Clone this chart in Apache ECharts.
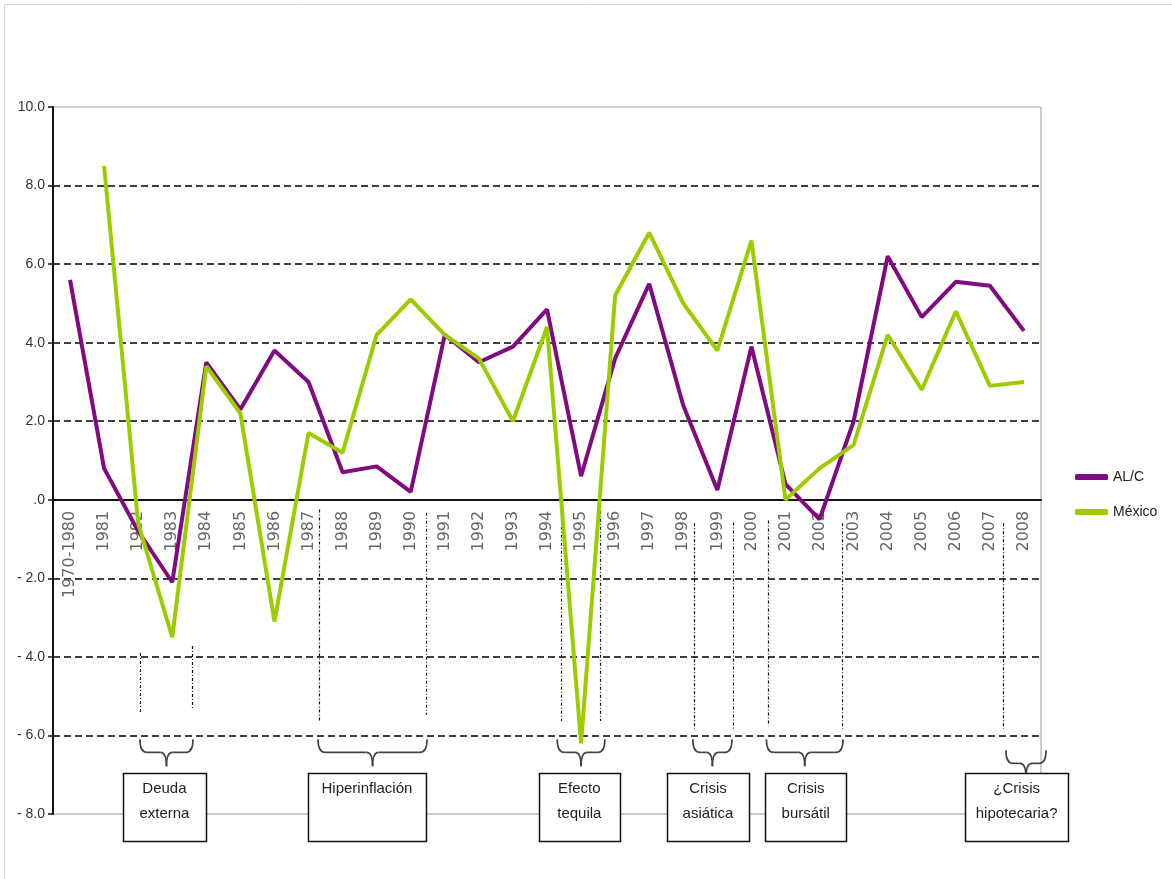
<!DOCTYPE html>
<html>
<head>
<meta charset="utf-8">
<script src="https://cdn.jsdelivr.net/npm/echarts@6/dist/echarts.min.js"></script>
<style>
html, body { margin: 0; padding: 0; background: #fff; }
#chart { width: 1172px; height: 879px; }
</style>
</head>
<body>
<div id="chart"></div>
<script>
// Periods on the horizontal axis
const years = ['1970-1980', '1981', '1982', '1983', '1984', '1985', '1986', '1987', '1988', '1989',
  '1990', '1991', '1992', '1993', '1994', '1995', '1996', '1997', '1998', '1999',
  '2000', '2001', '2002', '2003', '2004', '2005', '2006', '2007', '2008'];

// Real GDP growth, % per year
const alc = [5.6, 0.8, -0.8, -2.1, 3.5, 2.3, 3.8, 3.0, 0.7, 0.85,
  0.2, 4.2, 3.5, 3.9, 4.85, 0.6, 3.6, 5.5, 2.4, 0.25,
  3.9, 0.4, -0.5, 2.0, 6.2, 4.65, 5.55, 5.45, 4.3];
const mexico = [null, 8.5, -0.6, -3.5, 3.4, 2.2, -3.1, 1.7, 1.2, 4.2,
  5.1, 4.2, 3.6, 2.0, 4.4, -6.2, 5.2, 6.8, 5.0, 3.8,
  6.6, 0.0, 0.8, 1.4, 4.2, 2.8, 4.8, 2.9, 3.0];

// Value-axis tick labels, from -8 up to 10
const yTickLabels = ['- 8.0', '- 6.0', '- 4.0', '- 2.0', '.0', '2.0', '4.0', '6.0', '8.0', '10.0'];

// Crisis episodes marked under the lines
const eraNames = [
  ['Deuda', 'externa'],
  ['Hiperinflación'],
  ['Efecto', 'tequila'],
  ['Crisis', 'asiática'],
  ['Crisis', 'bursátil'],
  ['¿Crisis', 'hipotecaria?']
];

const FONT = '"Liberation Sans", Arial, sans-serif';
const Y_MIN = -8, Y_MAX = 10;
const GRID = { left: 53, top: 107, width: 988, height: 707 };
// distance from the bottom edge of the plot up to the zero line, in pixels
const zeroLift = GRID.height * (0 - Y_MIN) / (Y_MAX - Y_MIN);

const chart = echarts.init(document.getElementById('chart'), null, { renderer: 'canvas' });

chart.setOption({
  animation: false,
  backgroundColor: '#fff',
  grid: Object.assign({
    show: true, borderColor: '#9a9a9a', borderWidth: 1, backgroundColor: 'transparent'
  }, GRID),
  legend: {
    orient: 'vertical',
    left: 1070, top: 465,
    itemWidth: 33, itemHeight: 6, itemGap: 21,
    icon: 'roundRect',
    textStyle: { fontFamily: FONT, fontSize: 14, color: '#222' },
    data: ['AL/C', 'México']
  },
  xAxis: {
    type: 'category',
    data: years,
    boundaryGap: true,
    axisLine: { onZero: true, lineStyle: { color: '#111', width: 2 } },
    axisTick: { show: false },
    axisLabel: {
      // labels hang just under the zero line
      interval: 0, rotate: 90, margin: -(zeroLift - 11),
      hideOverlap: false,
      fontFamily: '"DejaVu Sans", sans-serif', fontSize: 16, color: '#666'
    },
    splitLine: { show: false }
  },
  yAxis: {
    type: 'value',
    min: Y_MIN, max: Y_MAX, interval: 2,
    axisLine: { show: true, lineStyle: { color: '#111', width: 2 } },
    axisTick: { show: true, length: 5, lineStyle: { color: '#111', width: 1.5 } },
    axisLabel: {
      margin: 8, fontFamily: FONT, fontSize: 14, color: '#333',
      formatter: v => yTickLabels[Math.round((v - Y_MIN) / 2)]
    },
    splitLine: {
      show: true, showMinLine: false, showMaxLine: false,
      lineStyle: { type: [7, 4], color: '#000', width: 1.5 }
    }
  },
  series: [
    {
      name: 'AL/C', type: 'line', data: alc,
      symbol: 'none', showSymbol: false,
      lineStyle: { color: '#800a80', width: 4 },
      itemStyle: { color: '#800a80' }, z: 3
    },
    {
      name: 'México', type: 'line', data: mexico,
      symbol: 'none', showSymbol: false,
      lineStyle: { color: '#9ccc00', width: 4 },
      itemStyle: { color: '#9ccc00' }, z: 4
    }
  ]
});

// Geometry of each episode: dotted markers [category position, top value, bottom value],
// brace span and box span in category positions (boundaries counted from 0).
const eraLayout = [
  { marks: [[2.55, -3.9, -5.42], [4.09, -3.72, -5.32]], brace: [2.55, 4.11], braceTop: -6.1, box: [2.05, 4.49] },
  { marks: [[7.81, -0.25, -5.63], [10.95, -0.33, -5.47]], brace: [7.78, 10.98], braceTop: -6.1, box: [7.48, 10.95] },
  { marks: [[14.91, -0.28, -5.63], [16.07, -0.28, -5.63]], brace: [14.8, 16.2], braceTop: -6.1, box: [14.26, 16.64] },
  { marks: [[18.81, -0.6, -5.83], [19.96, -0.58, -5.83]], brace: [18.78, 19.93], braceTop: -6.1, box: [18.02, 20.43] },
  { marks: [[20.99, -0.53, -5.75], [23.16, -0.6, -5.83]], brace: [20.94, 23.19], braceTop: -6.1, box: [20.91, 23.28] },
  { marks: [[27.88, -0.6, -5.83]], brace: [27.97, 29.15], braceTop: -6.38, box: [26.78, 29.79] }
];

function braceParts(x1, x2, y0) {
  const mid = (x1 + x2) / 2, ym = y0 + 13, y1 = y0 + 27;
  const st = { stroke: '#444', lineWidth: 1.7, fill: null };
  const mk = (type, shape) => ({ type, z: 1, silent: true, shape, style: st });
  return [
    mk('bezierCurve', { x1: x1, y1: y0, x2: x1 + 7, y2: ym, cpx1: x1, cpy1: ym }),
    mk('line', { x1: x1 + 7, y1: ym, x2: mid - 6, y2: ym }),
    mk('bezierCurve', { x1: mid - 6, y1: ym, x2: mid, y2: y1, cpx1: mid, cpy1: ym }),
    mk('bezierCurve', { x1: x2, y1: y0, x2: x2 - 7, y2: ym, cpx1: x2, cpy1: ym }),
    mk('line', { x1: x2 - 7, y1: ym, x2: mid + 6, y2: ym }),
    mk('bezierCurve', { x1: mid + 6, y1: ym, x2: mid, y2: y1, cpx1: mid, cpy1: ym })
  ];
}

function drawEras() {
  const c0 = chart.convertToPixel({ xAxisIndex: 0 }, 0);
  const bw = chart.convertToPixel({ xAxisIndex: 0 }, 1) - c0;
  const px = u => c0 + (u - 0.5) * bw;
  const py = v => chart.convertToPixel({ yAxisIndex: 0 }, v);

  const els = [];
  // outer frame of the figure
  els.push({ type: 'polyline', z: 0, silent: true,
    shape: { points: [[4.5, 879], [4.5, 4.5], [1172, 4.5]] },
    style: { stroke: '#d6d6d6', lineWidth: 1, fill: null } });

  const boxTop = py(-6.95), boxBottom = py(-8.68);
  eraLayout.forEach((g, i) => {
    g.marks.forEach(m => {
      const x = Math.round(px(m[0])) + 0.5;
      els.push({ type: 'line', z: 1, silent: true,
        shape: { x1: x, y1: py(m[1]), x2: x, y2: py(m[2]) },
        style: { stroke: '#111', lineWidth: 1.2, lineDash: [3, 2, 1, 2] } });
    });
    braceParts(px(g.brace[0]), px(g.brace[1]), py(g.braceTop)).forEach(e => els.push(e));

    const bx1 = px(g.box[0]), bx2 = px(g.box[1]);
    els.push({ type: 'rect', z: 10, silent: true,
      shape: { x: Math.round(bx1) + 0.5, y: Math.round(boxTop) + 0.5, width: Math.round(bx2 - bx1), height: Math.round(boxBottom - boxTop) },
      style: { fill: '#fff', stroke: '#111', lineWidth: 1.5 } });
    els.push({ type: 'text', z: 11, silent: true,
      x: (bx1 + bx2) / 2, y: boxTop + 4,
      style: { text: eraNames[i].join('\n'), font: '15px ' + FONT, fill: '#222',
        align: 'center', verticalAlign: 'top', lineHeight: 25 } });
  });
  chart.setOption({ graphic: { elements: els } });
}
drawEras();
</script>
</body>
</html>
